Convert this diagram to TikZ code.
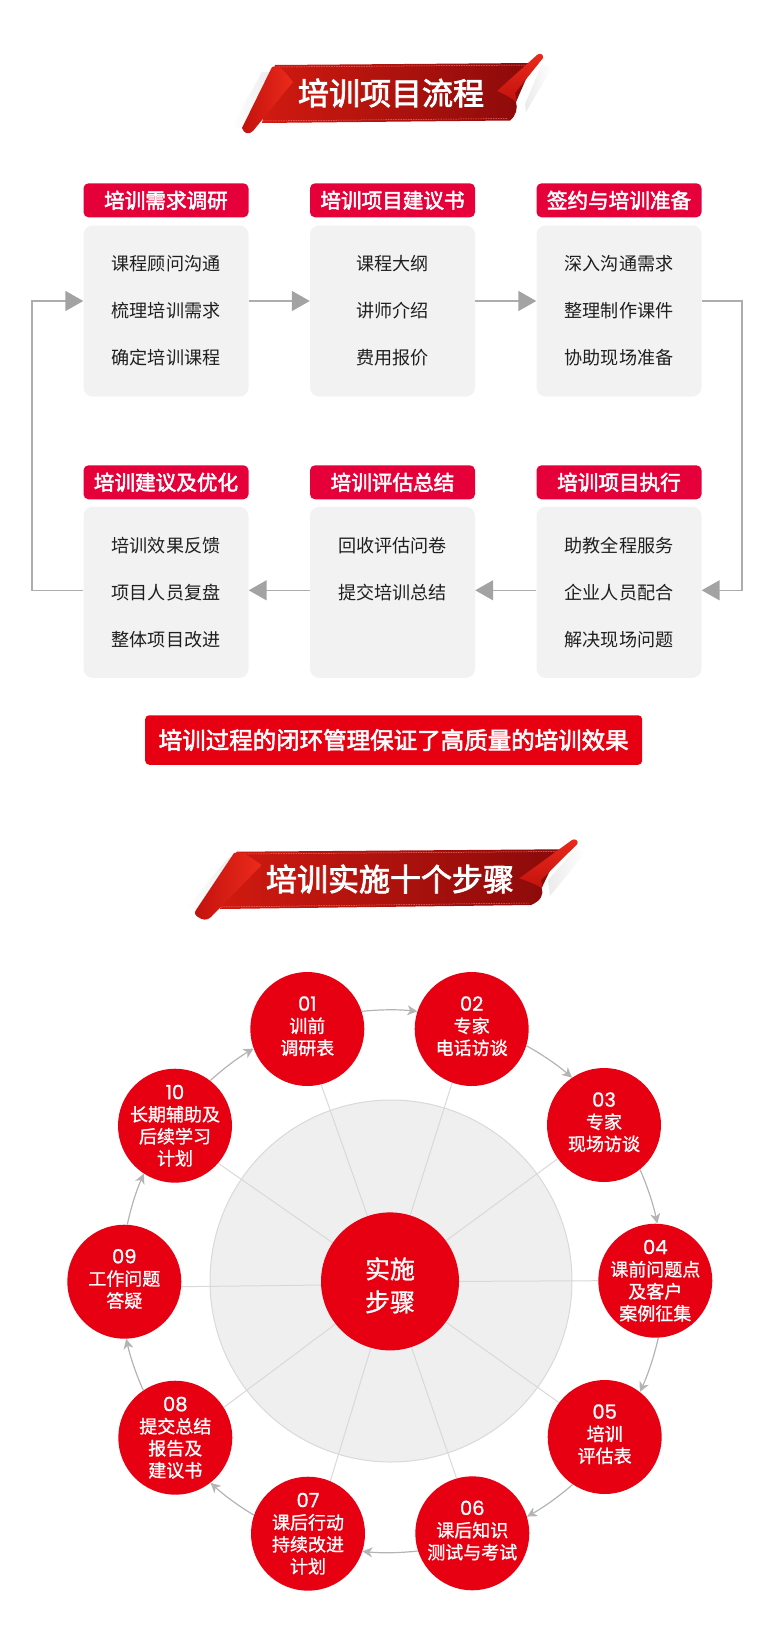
\documentclass[tikz,border=0pt]{standalone}
\usepackage{fontspec}
\setmainfont{Noto Sans CJK SC}
\newfontfamily\medfont[FakeBold=2.5]{Noto Sans CJK SC}
\newfontfamily\softfont[FakeBold=1]{Noto Sans CJK SC}
\newfontfamily\numfont[FakeBold=1]{Poppins}
\newcommand{\stepno}[1]{{\numfont\fontsize{19.5}{22}\selectfont #1}}
\usepackage{tikz}
\usetikzlibrary{arrows.meta, backgrounds, fadings}
\definecolor{stepred}{HTML}{E60012}
\definecolor{headred}{HTML}{E6003A}
\definecolor{bodygray}{HTML}{F2F2F2}
\definecolor{flowgray}{HTML}{ADADAD}
\definecolor{tipgray}{HTML}{A3A3A3}
\definecolor{ringgray}{HTML}{B4B4B4}
\definecolor{spokegray}{HTML}{D9D9D9}
\definecolor{hubgray}{HTML}{EFEFEF}
\definecolor{bandlight}{HTML}{D01A10}
\definecolor{bandmid}{HTML}{BC130E}
\definecolor{banddark}{HTML}{8A0A0A}
\definecolor{curlbright}{HTML}{EC2A1C}
\definecolor{curldark}{HTML}{C2120D}
\tikzstyle{headbox} = [rectangle, rounded corners=5pt, minimum width=165pt, minimum height=34pt, inner sep=0pt, fill=headred, text=white, font=\medfont\fontsize{20.6}{24}\selectfont]
\tikzstyle{bodybox} = [rectangle, rounded corners=9pt, minimum width=165pt, minimum height=171pt, inner sep=0pt, fill=bodygray, text=black!88, align=center, font=\fontsize{18.1}{47}\selectfont]
\tikzstyle{closebox} = [rectangle, rounded corners=4pt, minimum width=497pt, minimum height=49.5pt, inner sep=0pt, fill=stepred, text=white, font=\medfont\fontsize{23.5}{26}\selectfont]
\tikzstyle{stepnode} = [circle, minimum size=114pt, inner sep=-30pt, fill=stepred, text=white, align=center, font=\softfont\fontsize{18}{22}\selectfont]
\tikzstyle{threeline} = [text depth=7pt]
\tikzstyle{hubnode} = [circle, minimum size=138pt, inner sep=-30pt, fill=stepred, text=white, align=center, text height=62pt, font=\softfont\fontsize{25}{33}\selectfont]
\tikzstyle{hubdisc} = [circle, minimum size=362pt, inner sep=0pt, fill=hubgray, draw=spokegray, line width=1pt]
\tikzstyle{spoke} = [draw=spokegray, line width=1pt]
\tikzstyle{arrow} = [draw=flowgray, line width=1.5pt, -{Triangle[length=18pt,width=20pt,color=tipgray]}]
\tikzstyle{ringarrow} = [draw=ringgray, line width=1.2pt, -{Stealth[length=10pt,width=10pt,inset=3pt]}, bend left=6, looseness=0.85]
\tikzstyle{titletext} = [inner sep=0pt, text=white, font=\medfont\fontsize{31}{36}\selectfont]
\tikzstyle{bandface} = [left color=bandlight, middle color=bandmid, right color=banddark]
\tikzstyle{stitch} = [draw=red!55!white, line width=0.5pt, dash pattern=on 1.5pt off 1pt]
\tikzstyle{curlleft} = [left color=curldark, right color=curlbright]
\tikzstyle{curlright} = [top color=curlbright, bottom color=curldark]
\tikzstyle{softshade} = [fill=black, opacity=0.08]
\begin{document}
\begin{tikzpicture}[x=1pt, y=-1pt]
\useasboundingbox (0,0) rectangle (780,1638);

% First ribbon
\path[softshade, path fading=west] (232,126) -- (262,72) -- (272,72) -- (246,130) -- cycle;
\path[softshade, path fading=east] (525,104) -- (542,64) -- (552,68) -- (526,112) -- cycle;
\path[bandface] (275,65) -- (533,63) -- (516,102) .. controls (518,108) and (516,116) .. (510,120.5) -- (262,123) -- cycle;
\path[stitch] (276,67) -- (530,65);
\path[stitch] (263,121) -- (508,118.5);
\path[curlright] (497,91) -- (537,55) .. controls (540,52) and (544,55) .. (543,58) -- (515,93) .. controls (516,96) and (516.5,100) .. (516,102) .. controls (510,97) and (504,94) .. (497,91) -- cycle;
\path[curlleft] (272,67) .. controls (278,64) and (282,68) .. (293,82) -- (253,131) .. controls (249,135) and (244,134) .. (242,128) -- cycle;
\node (titlea) [titletext] at (391,93) {培训项目流程};

% Boxes
\node (heada) [headbox] at (166,200.3) {培训需求调研};
\node (headb) [headbox, node distance=226.5pt, right of=heada] {培训项目建议书};
\node (headc) [headbox, node distance=226.5pt, right of=headb] {签约与培训准备};
\node (headd) [headbox, node distance=282pt, below of=heada] {培训建议及优化};
\node (heade) [headbox, node distance=226.5pt, right of=headd] {培训评估总结};
\node (headf) [headbox, node distance=226.5pt, right of=heade] {培训项目执行};
\node (bodya) [bodybox, node distance=110.7pt, below of=heada] {课程顾问沟通\\梳理培训需求\\确定培训课程};
\node (bodyb) [bodybox, node distance=110.7pt, below of=headb] {课程大纲\\讲师介绍\\费用报价};
\node (bodyc) [bodybox, node distance=110.7pt, below of=headc] {深入沟通需求\\整理制作课件\\协助现场准备};
\node (bodyd) [bodybox, node distance=110pt, below of=headd] {培训效果反馈\\项目人员复盘\\整体项目改进};
\node (bodye) [bodybox, node distance=110pt, below of=heade] {回收评估问卷\\提交培训总结\\\mbox{}};
\node (bodyf) [bodybox, node distance=110pt, below of=headf] {助教全程服务\\企业人员配合\\解决现场问题};
\node (closing) [closebox] at (393.7,740) {培训过程的闭环管理保证了高质量的培训效果};

% Arrows
\coordinate (loopr) at (742,450);
\coordinate (loopl) at (32,450);
\draw [arrow] ([yshift=10pt]bodya.east) -- ([yshift=10pt]bodyb.west);
\draw [arrow] ([yshift=10pt]bodyb.east) -- ([yshift=10pt]bodyc.west);
\draw [arrow] ([yshift=10pt]bodyc.east) -| (loopr) |- ([yshift=2pt]bodyf.east);
\draw [arrow] ([yshift=2pt]bodyf.west) -- ([yshift=2pt]bodye.east);
\draw [arrow] ([yshift=2pt]bodye.west) -- ([yshift=2pt]bodyd.east);
\draw [arrow] ([yshift=2pt]bodyd.west) -| (loopl) |- ([yshift=10pt]bodya.west);

% Second ribbon
\path[softshade, path fading=west] (186,908) -- (228,858) -- (238,858) -- (208,914) -- cycle;
\path[softshade, path fading=east] (548,880) -- (576,848) -- (586,852) -- (550,896) -- cycle;
\path[bandface] (236.7,851.7) -- (560,849.3) -- (541.7,888) .. controls (544,894) and (541,901) .. (531,905) -- (220,909) -- cycle;
\path[stitch] (238,854) -- (558,851.5);
\path[stitch] (221,907) -- (529,903);
\path[curlright] (519.3,878.3) -- (572,840) .. controls (575,838) and (579,841) .. (577.3,844) -- (541,880) .. controls (542,883) and (542.5,886) .. (541.7,888) .. controls (535,884) and (527,881) .. (519.3,878.3) -- cycle;
\path[curlleft] (234,853) .. controls (240,850) and (246,854) .. (261.7,865) -- (211,917) .. controls (207,921) and (202,920) .. (198,917) .. controls (195,915) and (194,913) .. (196,910) -- cycle;
\node (titleb) [titletext] at (390,879) {培训实施十个步骤};

% Steps
\node (hub) [hubnode] at (390,1281.4) {实施\\步骤};
\node (n01) [stepnode, threeline] at (307.3,1029) {\stepno{01}\\训前\\调研表};
\node (n02) [stepnode, threeline] at (471.7,1029) {\stepno{02}\\专家\\电话访谈};
\node (n03) [stepnode, threeline] at (604,1125) {\stepno{03}\\专家\\现场访谈};
\node (n04) [stepnode] at (655.3,1280.7) {\stepno{04}\\课前问题点\\及客户\\案例征集};
\node (n05) [stepnode, threeline] at (604.7,1437) {\stepno{05}\\培训\\评估表};
\node (n06) [stepnode, threeline] at (472.3,1533.3) {\stepno{06}\\课后知识\\测试与考试};
\node (n07) [stepnode] at (308,1533.7) {\stepno{07}\\课后行动\\持续改进\\计划};
\node (n08) [stepnode] at (175.3,1437.7) {\stepno{08}\\提交总结\\报告及\\建议书};
\node (n09) [stepnode, threeline] at (124.3,1281.7) {\stepno{09}\\工作问题\\答疑};
\node (n10) [stepnode] at (175,1125.7) {\stepno{10}\\长期辅助及\\后续学习\\计划};

% Disc and spokes
\begin{pgfonlayer}{background}
\node (disc) [hubdisc] at (391,1281) {};
\draw [spoke] (hub.109) -- (n01.-76);
\draw [spoke] (hub.73) -- (n02.-110);
\draw [spoke] (hub.36) -- (n03.-144);
\draw [spoke] (hub.0) -- (n04.180);
\draw [spoke] (hub.-36) -- (n05.143);
\draw [spoke] (hub.-72) -- (n06.106);
\draw [spoke] (hub.-106) -- (n07.67);
\draw [spoke] (hub.218) -- (n08.32);
\draw [spoke] (hub.183) -- (n09.-5);
\draw [spoke] (hub.146) -- (n10.-41);
\end{pgfonlayer}

% Ring
\draw [ringarrow] (n01.18) to (n02.162);
\draw [ringarrow] (n02.-17) to (n03.124);
\draw [ringarrow] (n03.-51) to (n04.88);
\draw [ringarrow] (n04.-87) to (n05.52);
\draw [ringarrow] (n05.-124) to (n06.17);
\draw [ringarrow] (n06.198) to (n07.-18);
\draw [ringarrow] (n07.161) to (n08.-52);
\draw [ringarrow] (n08.124) to (n09.-88);
\draw [ringarrow] (n09.87) to (n10.-123);
\draw [ringarrow] (n10.52) to (n01.-160);

\end{tikzpicture}
\end{document}
